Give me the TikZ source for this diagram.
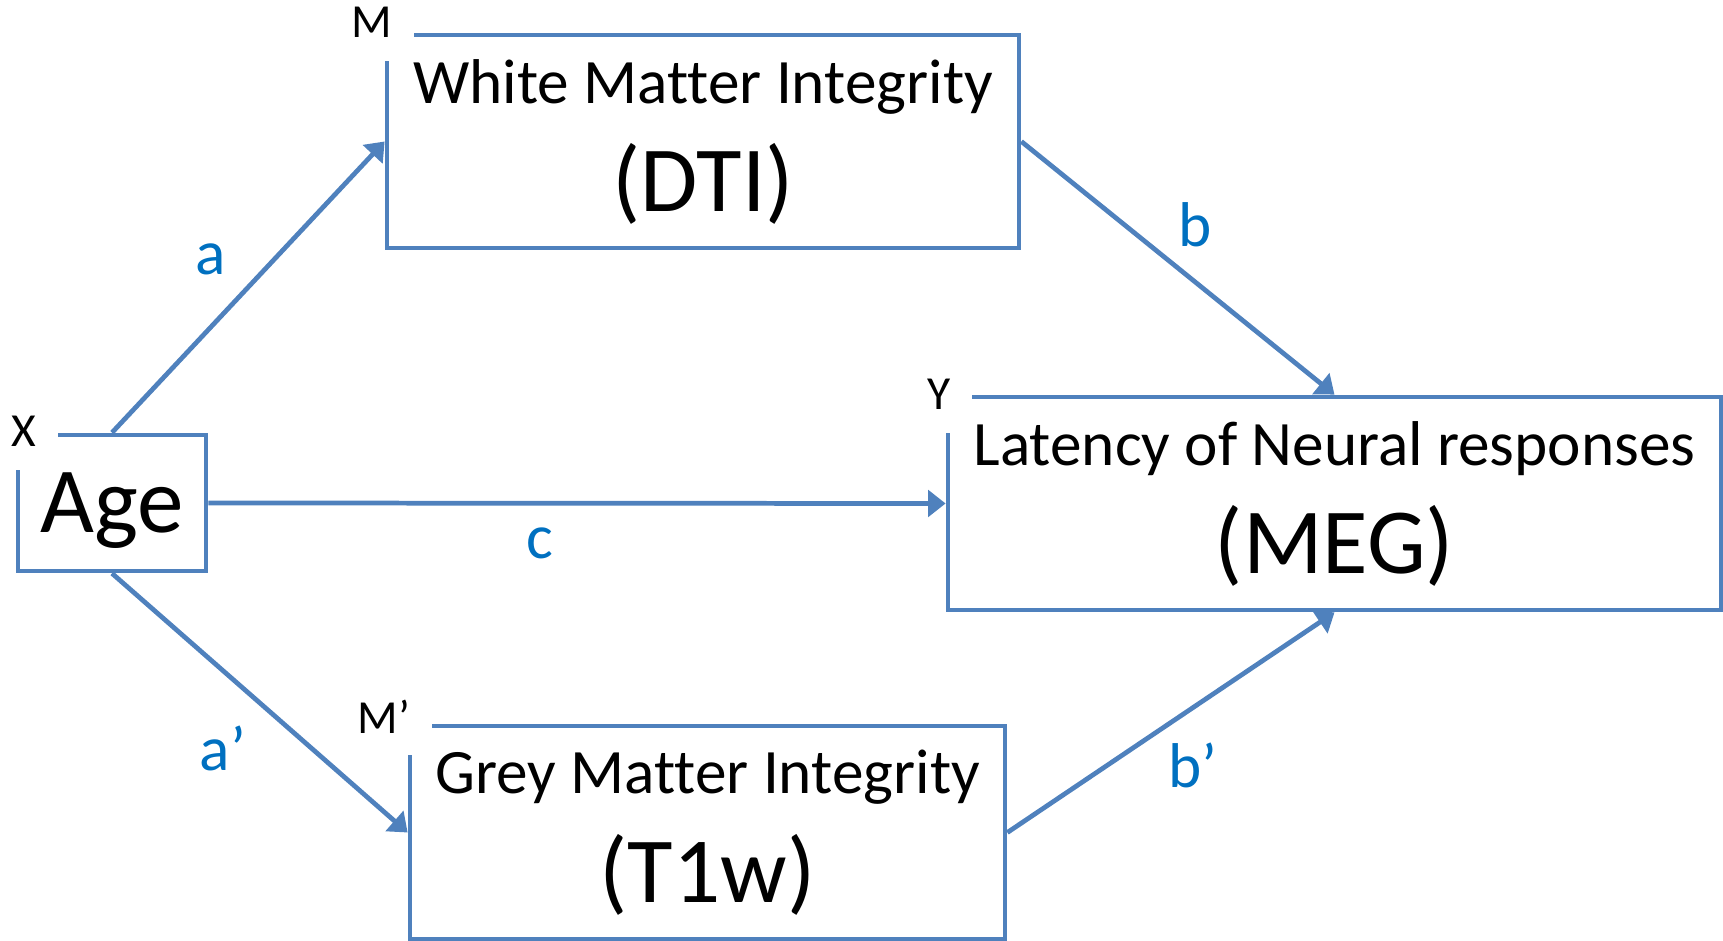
\documentclass[tikz,border=0pt]{standalone}
\usepackage{fontspec}
\setmainfont{Carlito}[Ligatures = {TeX, NoCommon}]
\usetikzlibrary{arrows.meta}
\definecolor{boxblue}{HTML}{4F81BD}
\definecolor{pathblue}{HTML}{0070C0}
\newcommand{\linefont}{\fontsize{18}{31}\selectfont}
\newcommand{\bigfont}{\fontsize{26.5}{31}\selectfont}
\newcommand{\tagfont}{\fontsize{13.5}{16}\selectfont}

\begin{document}
\begin{tikzpicture}[scale = 1,
	box/.style = {draw = boxblue, line width = 1.35pt, inner sep = 0pt, align = center, font = \linefont, text depth = 3.4pt},
	tag/.style = {fill = white, inner xsep = 0.22cm, inner ysep = 0pt, minimum height = 0.77cm, font = \tagfont},
	link/.style = {draw = boxblue, line width = 1.35pt, -{Triangle[length = 5pt, width = 7.5pt]}},
	coef/.style = {text = pathblue, font = \linefont, inner sep = 0pt, anchor = base}]
	\useasboundingbox (0, 0) rectangle (17.23, 9.41);

	\node[box, minimum width = 1.88cm, minimum height = 1.36cm, font = \bigfont, text depth = 0pt] (age) at (1.12, 4.38) {Age};
	\node[box, minimum width = 6.32cm, minimum height = 2.13cm] (dti) at (7.03, 7.995) {White Matter Integrity\\\bigfont (DTI)};
	\node[box, minimum width = 7.73cm, minimum height = 2.13cm] (meg) at (13.345, 4.375) {Latency of Neural responses\\\bigfont (MEG)};
	\node[box, minimum width = 5.95cm, minimum height = 2.13cm] (tw) at (7.075, 1.085) {Grey Matter Integrity\\\bigfont (T1w)};

	\draw[link] (age.north) -- (dti.west);
	\draw[link] (age.east)  -- (meg.west);
	\draw[link] (age.south) -- (tw.west);
	\draw[link] (dti.east)  -- (meg.north);
	\draw[link] (tw.east)   -- (meg.south);

	\node[coef] (ca)  at (2.105, 6.66) {a};
	\node[coef] (cb)  at (11.955, 6.94) {b};
	\node[coef] (cc)  at (5.40, 3.82) {c};
	\node[coef] (cap) at (2.23, 1.70) {a’};
	\node[coef] (cbp) at (11.925, 1.53) {b’};

	\node[tag] (xtag)  at ([shift = {(0.08, 0.01)}]age.north west)  {X};
	\node[tag] (mtag)  at ([shift = {(-0.125, 0.10)}]dti.north west) {M};
	\node[tag] (ytag)  at ([shift = {(-0.07, 0)}]meg.north west)     {Y};
	\node[tag] (mptag) at ([shift = {(-0.235, 0.07)}]tw.north west)  {M’};
\end{tikzpicture}
\end{document}
